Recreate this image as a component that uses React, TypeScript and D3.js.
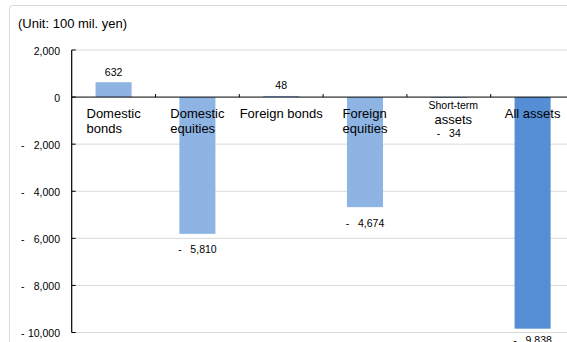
import React from "react";
import * as d3 from "d3";

const categories: string[][] = [
  ["Domestic", "bonds"],
  ["Domestic", "equities"],
  ["Foreign bonds"],
  ["Foreign", "equities"],
  ["Short-term", "assets"],
  ["All assets"],
];
const values: number[] = [632, -5810, 48, -4674, -34, -9838];
const yTicks: number[] = [2000, 0, -2000, -4000, -6000, -8000, -10000];
const unitLabel = "(Unit: 100 mil. yen)";

const W = 567;
const H = 342;
const FONT = '"Liberation Sans", Arial, sans-serif';

function measure(text: string, size: number): number {
  const c = document.createElement("canvas").getContext("2d");
  if (!c) return text.length * size * 0.55;
  c.font = `${size}px "Liberation Sans"`;
  return c.measureText(text).width;
}

export default function App() {
  const x0 = 71.7;
  const step = 83.8;
  const x = d3
    .scaleBand<number>()
    .domain(values.map((_, i) => i))
    .range([x0, x0 + step * values.length])
    .paddingInner(0)
    .paddingOuter(0);
  const y = d3.scaleLinear().domain([-10000, 2000]).range([332.5, 50]);
  const barW = x.bandwidth() * 0.43;
  const fmt = d3.format(",");
  const y0 = y(0);

  return (
    <svg
      width={W}
      height={H}
      style={{ position: "absolute", left: 0, top: 0, background: "#fff" }}
      fontFamily={FONT}
    >
      <rect x={0} y={0} width={W} height={H} fill="#fff" />
      {/* outer frame */}
      <rect x={9.5} y={5.5} width={W + 20} height={H + 20} fill="none" stroke="#d9d9d9" strokeWidth={1} rx={3} />
      <text x={18} y={27.5} fontSize={13} fill="#000">{unitLabel}</text>

      {/* gridlines */}
      {yTicks.filter((t) => t !== 0).map((t) => (
        <line key={"g" + t} x1={x0} x2={W} y1={y(t)} y2={y(t)} stroke="#d9d9d9" strokeWidth={1} />
      ))}

      {/* bars */}
      {values.map((v, i) => {
        const cx = (x(i) as number) + x.bandwidth() / 2;
        const top = Math.min(y(v), y0);
        const h = Math.abs(y(v) - y0);
        return (
          <rect
            key={"b" + i}
            x={cx - barW / 2}
            y={top}
            width={barW}
            height={Math.max(h, 0.8)}
            fill={i === values.length - 1 ? "#558ED5" : "#8EB4E3"}
          />
        );
      })}

      {/* axes */}
      <line x1={x0} x2={W} y1={y0} y2={y0} stroke="#000" strokeWidth={1} />
      <line x1={x0} x2={x0} y1={y(2000)} y2={y(-10000)} stroke="#000" strokeWidth={1.2} />
      {yTicks.map((t) => (
        <line key={"yt" + t} x1={x0} x2={x0 + 4} y1={y(t)} y2={y(t)} stroke="#000" strokeWidth={1} />
      ))}
      {values.map((_, i) =>
        i === 0 ? null : (
          <line key={"xt" + i} x1={x(i) as number} x2={x(i) as number} y1={y0} y2={y0 - 3} stroke="#000" strokeWidth={1} />
        )
      )}

      {/* y tick labels */}
      {yTicks.map((t) => (
        <g key={"yl" + t} fontSize={10.5} fill="#000">
          {t < 0 && (
            <text x={21} y={y(t) + 4.5}>-</text>
          )}
          <text x={60} y={y(t) + 4.5} textAnchor="end">{fmt(Math.abs(t))}</text>
        </g>
      ))}

      {/* category labels */}
      {categories.map((lines, i) => {
        const cx = (x(i) as number) + x.bandwidth() / 2;
        if (lines[0] === "Short-term") {
          return (
            <g key={"c" + i} fill="#000" textAnchor="middle">
              <text x={cx + 4.5} y={108.5} fontSize={10.5}>{lines[0]}</text>
              <text x={cx + 4.5} y={124} fontSize={13}>{lines[1]}</text>
            </g>
          );
        }
        const maxW = Math.max(...lines.map((l) => measure(l, 13)));
        const sx = cx - maxW / 2;
        return (
          <g key={"c" + i} fill="#000" fontSize={13}>
            {lines.map((l, j) => (
              <text key={j} x={sx} y={117.5 + j * 15.8}>{l}</text>
            ))}
          </g>
        );
      })}

      {/* value labels */}
      {values.map((v, i) => {
        const cx = (x(i) as number) + x.bandwidth() / 2;
        if (v >= 0) {
          return (
            <text key={"v" + i} x={cx} y={y(v) - 6.5} fontSize={10.5} textAnchor="middle" fill="#000">
              {fmt(v)}
            </text>
          );
        }
        const yy = Math.min(Math.max(y(v) + 19.5, y0 + 39.5), H + 2);
        return (
          <text key={"v" + i} x={cx} y={yy} fontSize={10.5} textAnchor="middle" fill="#000" style={{ whiteSpace: "pre" }}>
            {"-   " + fmt(Math.abs(v))}
          </text>
        );
      })}
    </svg>
  );
}
